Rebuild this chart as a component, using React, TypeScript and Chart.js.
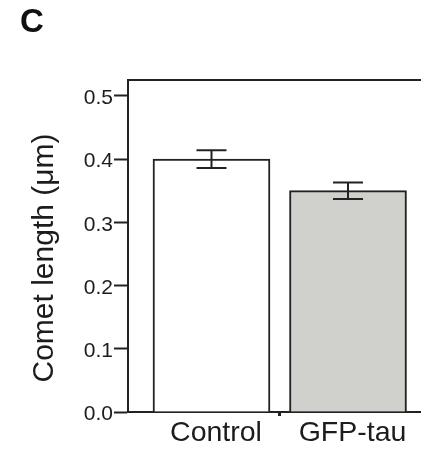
import React, { useEffect, useRef } from 'react';
import { Chart, registerables } from 'chart.js';

Chart.register(...registerables);

// ---- data ----
const categories = ['Control', 'GFP-tau'];
const means = [0.4, 0.35];
const errors = [0.014, 0.013];
const yTicks = [0, 0.1, 0.2, 0.3, 0.4, 0.5];
const dividerTicks = [0.5]; // tick mark between the two categories
const panelLabel = 'C';
const yTitle = 'Comet length (\u03bcm)';

const FONT = "'Liberation Sans', Arial, Helvetica, sans-serif";
const INK = '#1c1c1c';
const LINE = '#222222';

const X_MIN = -0.6117;
const X_MAX = 1.5348;

const overlay = {
  id: 'overlay',
  afterDatasetsDraw(chart: any) {
    const { ctx, scales } = chart;
    const x = scales.x;
    const y = scales.y;
    ctx.save();
    ctx.strokeStyle = LINE;
    ctx.lineWidth = 2;
    means.forEach((m, i) => {
      const px = x.getPixelForValue(i);
      const top = y.getPixelForValue(m + errors[i]);
      const bot = y.getPixelForValue(m - errors[i]);
      ctx.beginPath();
      ctx.moveTo(px, top);
      ctx.lineTo(px, bot);
      ctx.moveTo(px - 15, top);
      ctx.lineTo(px + 15, top);
      ctx.moveTo(px - 15, bot);
      ctx.lineTo(px + 15, bot);
      ctx.stroke();
    });
    ctx.restore();
  },
  afterDraw(chart: any) {
    const { ctx, chartArea } = chart;
    ctx.save();
    ctx.fillStyle = '#111111';
    ctx.font = `bold 33px ${FONT}`;
    ctx.textAlign = 'left';
    ctx.textBaseline = 'alphabetic';
    ctx.fillText(panelLabel, 20, 32);

    ctx.fillStyle = INK;
    ctx.font = `30px ${FONT}`;
    ctx.translate(52.5, (chartArea.top + chartArea.bottom) / 2 + 12);
    ctx.rotate(-Math.PI / 2);
    ctx.textAlign = 'center';
    ctx.textBaseline = 'alphabetic';
    ctx.fillText(yTitle, 0, 0);
    ctx.restore();
  },
};

export default function App() {
  const ref = useRef<HTMLCanvasElement | null>(null);

  useEffect(() => {
    if (!ref.current) return;
    const chart = new Chart(ref.current, {
      type: 'bar',
      data: {
        datasets: [
          {
            data: categories.map((_, i) => ({ x: i, y: means[i] })),
            backgroundColor: ['#ffffff', '#d0d0cd'],
            borderColor: LINE,
            borderWidth: 2,
            borderSkipped: 'bottom',
            barThickness: 117,
          } as any,
        ],
      },
      options: {
        animation: false,
        responsive: false,
        layout: { padding: { top: 80, left: 0, right: 0, bottom: 0 } },
        plugins: {
          legend: { display: false },
          tooltip: { enabled: false },
          title: { display: false },
        },
        scales: {
          x: {
            type: 'linear',
            position: 'bottom',
            min: X_MIN,
            max: X_MAX,
            offset: false,
            afterBuildTicks: (scale: any) => {
              const vals = [...categories.map((_, i) => i), ...dividerTicks].sort((a, b) => a - b);
              scale.ticks = vals.map((v) => ({ value: v }));
            },
            afterFit: (scale: any) => {
              scale.height = 42;
            },
            ticks: {
              autoSkip: false,
              maxRotation: 0,
              minRotation: 0,
              padding: 0,
              labelOffset: 4.5,
              color: INK,
              font: { family: FONT, size: 28.5 },
              callback: (value: any) =>
                Number.isInteger(value) && categories[value] !== undefined ? categories[value] : '',
            },
            grid: {
              display: true,
              offset: false,
              drawOnChartArea: false,
              drawTicks: true,
              tickLength: 4,
              tickWidth: 3,
              tickColor: (ctx: any) =>
                ctx.tick && dividerTicks.includes(ctx.tick.value) ? LINE : 'rgba(0,0,0,0)',
            },
            border: { display: true, color: LINE, width: 2 },
          },
          x2: {
            type: 'linear',
            position: 'top',
            min: X_MIN,
            max: X_MAX,
            offset: false,
            afterFit: (scale: any) => {
              scale.height = 0;
            },
            ticks: { display: false },
            grid: { display: false, drawTicks: false },
            border: { display: true, color: LINE, width: 2 },
          },
          y: {
            type: 'linear',
            position: 'left',
            min: 0,
            max: 0.525,
            afterBuildTicks: (scale: any) => {
              scale.ticks = yTicks.map((v) => ({ value: v }));
            },
            afterFit: (scale: any) => {
              scale.width = 128;
            },
            ticks: {
              padding: 1,
              labelOffset: 2.5,
              color: INK,
              font: { family: FONT, size: 21 },
              callback: (value: any) => Number(value).toFixed(1),
            },
            grid: {
              display: true,
              drawOnChartArea: false,
              drawTicks: true,
              tickLength: 14,
              tickWidth: 2,
              tickColor: LINE,
            },
            border: { display: true, color: LINE, width: 2 },
            title: { display: false },
          },
        },
      } as any,
      plugins: [overlay],
    });
    return () => chart.destroy();
  }, []);

  return (
    <div style={{ position: 'absolute', left: 0, top: 0, width: 421, height: 454, background: '#ffffff' }}>
      <canvas ref={ref} width={421} height={454} style={{ display: 'block' }} />
    </div>
  );
}
